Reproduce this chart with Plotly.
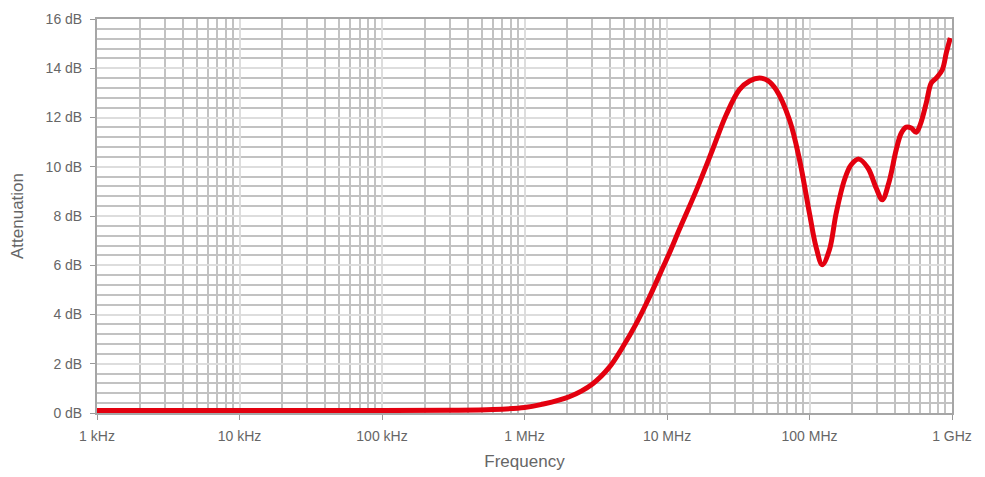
import plotly.graph_objects as go

# Data
freq_hz = [1e3, 1e4, 1e5, 3e5, 6e5, 1e6, 1.3e6, 2.06e6, 3e6, 3.94e6, 4.89e6, 6.07e6,
           7.52e6, 8.85e6, 1.04e7, 1.22e7, 1.6e7, 2.09e7, 2.6e7, 3.22e7, 3.8e7, 4.46e7,
           5.1e7, 5.83e7, 7.24e7, 8.5e7, 1e8, 1.11e8, 1.23e8, 1.38e8, 1.54e8, 1.76e8,
           1.96e8, 2.22e8, 2.57e8, 2.94e8, 3.24e8, 3.6e8, 4.06e8, 4.41e8, 4.78e8,
           5.18e8, 5.61e8, 5.98e8, 6.6e8, 7.15e8, 7.75e8, 8.55e8, 9.12e8, 9.73e8]
atten_db = [0.1, 0.1, 0.1, 0.11, 0.14, 0.22, 0.34, 0.66, 1.18, 1.86, 2.68, 3.62,
            4.7, 5.6, 6.5, 7.45, 9.02, 10.7, 12.1, 13.13, 13.48, 13.6,
            13.5, 13.13, 11.9, 10.3, 8.1, 6.76, 6.02, 6.63, 8.12, 9.47,
            10.08, 10.31, 9.95, 9.13, 8.66, 9.34, 10.69, 11.37, 11.61,
            11.57, 11.4, 11.7, 12.59, 13.4, 13.6, 13.94, 14.62, 15.23]

x_tick_vals = [1e3, 1e4, 1e5, 1e6, 1e7, 1e8, 1e9]
x_tick_text = ["1 kHz", "10 kHz", "100 kHz", "1 MHz", "10 MHz", "100 MHz", "1 GHz"]
y_tick_vals = [0, 2, 4, 6, 8, 10, 12, 14, 16]
y_tick_text = ["0 dB", "2 dB", "4 dB", "6 dB", "8 dB", "10 dB", "12 dB", "14 dB", "16 dB"]

x_minor_vals = [m * 10 ** e for e in range(3, 9) for m in range(2, 10)]
y_minor_vals = [v / 10 for v in range(0, 161, 4) if v % 20 != 0]

fig = go.Figure()
fig.add_trace(go.Scatter(
    x=freq_hz, y=atten_db, mode="lines",
    line=dict(color="#e3000f", width=5, shape="spline", smoothing=1.0),
    hoverinfo="skip", showlegend=False,
))

font = "Liberation Sans, Arial, sans-serif"
fig.update_layout(
    width=985, height=477,
    margin=dict(l=89, r=41, t=11, b=72, autoexpand=False),
    paper_bgcolor="white", plot_bgcolor="white",
    font=dict(family=font, size=14, color="#666666"),
    xaxis=dict(
        type="log", range=[3, 9], automargin=False,
        tickmode="array", tickvals=x_tick_vals, ticktext=x_tick_text,
        showgrid=True, gridcolor="#dddddd", gridwidth=2,
        minor=dict(tickmode="array", tickvals=x_minor_vals, showgrid=True,
                   gridcolor="#c2c2c2", gridwidth=2, ticks=""),
        ticks="outside", ticklen=5, tickcolor="#999999", tickwidth=1,
        ticklabelstandoff=4,
        showline=True, linecolor="#a6a6a6", linewidth=2, mirror=True,
        zeroline=False,
        tickfont=dict(size=14, color="#666666"),
        title=dict(text="Frequency", font=dict(size=17, color="#666666"), standoff=12),
    ),
    yaxis=dict(
        range=[0, 16], automargin=False,
        tickmode="array", tickvals=y_tick_vals, ticktext=y_tick_text,
        showgrid=True, gridcolor="#dddddd", gridwidth=2,
        minor=dict(tickmode="array", tickvals=y_minor_vals, showgrid=True,
                   gridcolor="#c2c2c2", gridwidth=2, ticks=""),
        ticks="outside", ticklen=5, tickcolor="#999999", tickwidth=1,
        ticklabelstandoff=5,
        showline=True, linecolor="#a6a6a6", linewidth=2, mirror=True,
        zeroline=False,
        tickfont=dict(size=14, color="#666666"),
        title=dict(text="Attenuation", font=dict(size=17, color="#666666"), standoff=20),
    ),
)

fig.write_html("out.html")
